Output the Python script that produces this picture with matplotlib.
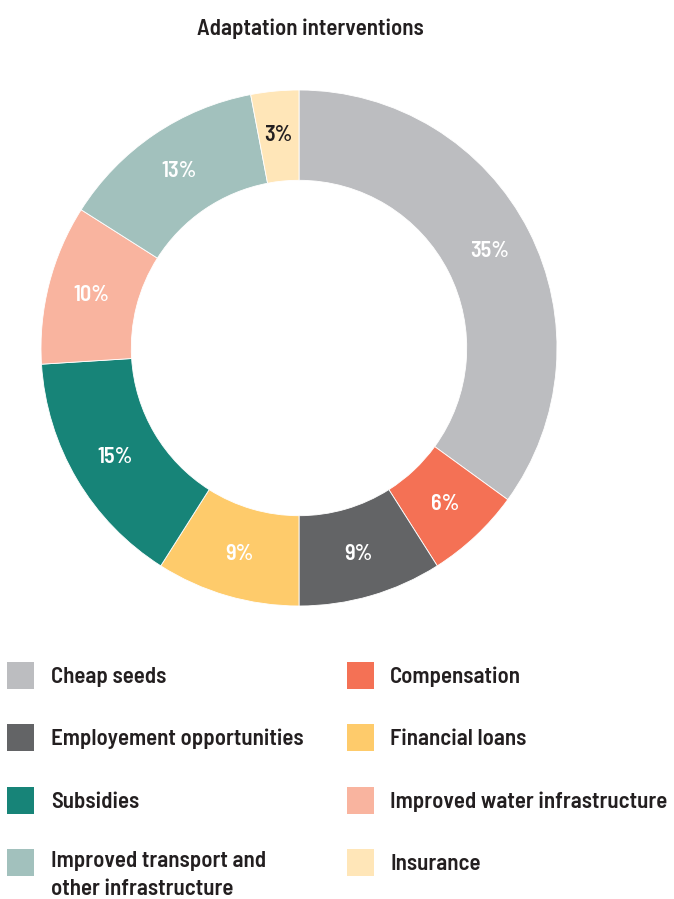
import matplotlib.pyplot as plt
from matplotlib.patches import Rectangle

# narrow DIN-like face, close to the original type
plt.rcParams['font.family'] = ['Barlow Semi Condensed', 'DejaVu Sans']

# data
labels = ['Cheap seeds', 'Compensation', 'Employement opportunities', 'Financial loans',
          'Subsidies', 'Improved water infrastructure',
          'Improved transport and\nother infrastructure', 'Insurance']
shares = [35, 6, 9, 9, 15, 10, 13, 3]
colors = ['#BCBDC0', '#F47155', '#636466', '#FECB6B',
          '#178478', '#F9B49F', '#A2C1BD', '#FFE6B8']
label_colors = ['white'] * 7 + ['#231F20']

W, H = 674, 899
fig = plt.figure(figsize=(W / 100, H / 100), dpi=100)

# donut
cx, cy, r = 299, 348, 258
ax = fig.add_axes([(cx - r) / W, (H - cy - r) / H, 2 * r / W, 2 * r / H])
wedges, texts, autotexts = ax.pie(
    shares, colors=colors, startangle=90, counterclock=False, radius=1,
    autopct='%d%%', pctdistance=0.83,
    wedgeprops=dict(width=0.35, edgecolor='white', linewidth=0.6))
for t, c in zip(autotexts, label_colors):
    t.set_color(c)
    t.set_fontsize(16)
    t.set_fontweight('semibold')
ax.set_xlim(-1, 1)
ax.set_ylim(-1, 1)
ax.set_aspect('equal')
ax.axis('off')

fig.text(310 / W, 1 - 29 / H, 'Adaptation interventions', ha='center', va='center',
         fontsize=16.5, fontweight='semibold', color='#231F20')

# legend, two columns filled row by row
rows_y = [675, 737, 800, 862]
cols_x = [(7, 51), (347, 390)]
sq = 27
for i, (lab, col) in enumerate(zip(labels, colors)):
    row, c = divmod(i, 2)
    sx, tx = cols_x[c]
    y = rows_y[row]
    fig.patches.append(Rectangle((sx / W, (H - y - sq / 2) / H), sq / W, sq / H,
                                 transform=fig.transFigure, facecolor=col,
                                 edgecolor='none'))
    if '\n' in lab:
        fig.text(tx / W, 1 - (y - 11) / H, lab, ha='left', va='top', fontsize=16.5,
                 fontweight='semibold', color='#231F20', linespacing=1.5)
    else:
        fig.text(tx / W, 1 - (y + 2) / H, lab, ha='left', va='center', fontsize=16.5,
                 fontweight='semibold', color='#231F20')

fig.savefig('out.png', dpi=100)
